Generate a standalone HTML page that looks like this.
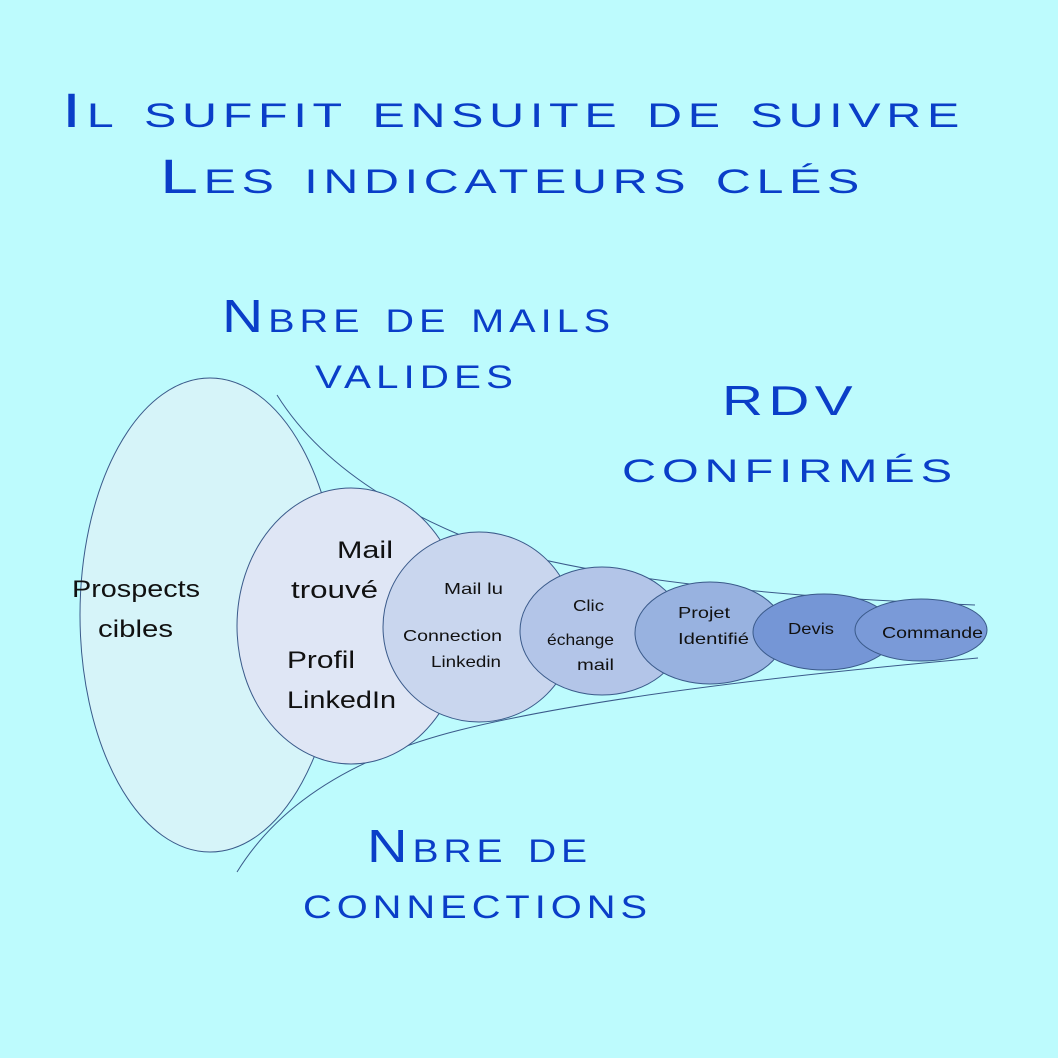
<!DOCTYPE html>
<html><head><meta charset="utf-8"><style>
html,body{margin:0;padding:0;background:#bdfbfd;}
svg{display:block}
.t{font-family:"Liberation Sans",sans-serif;font-variant:small-caps;fill:#0a3ec8;letter-spacing:4px;}
.b{font-family:"Liberation Sans",sans-serif;fill:#111;}
</style></head><body>
<svg width="1058" height="1058" viewBox="0 0 1058 1058" xmlns="http://www.w3.org/2000/svg">
<rect width="1058" height="1058" fill="#bdfbfd"/>
<text class="t" x="62" y="127" font-size="48" textLength="903" lengthAdjust="spacingAndGlyphs">Il suffit ensuite de suivre</text>
<text class="t" x="160" y="193" font-size="48" textLength="705" lengthAdjust="spacingAndGlyphs">Les indicateurs clés</text>
<text class="t" x="222" y="332" font-size="46" textLength="393" lengthAdjust="spacingAndGlyphs">Nbre de mails</text>
<text class="t" x="315" y="388" font-size="46" textLength="203" lengthAdjust="spacingAndGlyphs">valides</text>
<text class="t" x="722" y="415" font-size="42" textLength="136" lengthAdjust="spacingAndGlyphs">RDV</text>
<text class="t" x="622" y="482" font-size="46" textLength="336" lengthAdjust="spacingAndGlyphs">confirmés</text>
<text class="t" x="367" y="862" font-size="46" textLength="225" lengthAdjust="spacingAndGlyphs">Nbre de</text>
<text class="t" x="303" y="918" font-size="46" textLength="349" lengthAdjust="spacingAndGlyphs">connections</text>
<g stroke="#3a5a8a" stroke-width="1">
<ellipse cx="210" cy="615" rx="130" ry="237" fill="#d6f4f9"/>
<path d="M277 395 Q330 480 460 535 Q600 590 975 605" fill="none"/>
<path d="M237 872 Q300 770 460 730 Q620 690 978 658" fill="none"/>
<ellipse cx="351" cy="626" rx="114" ry="138" fill="#dfe6f5"/>
<ellipse cx="479" cy="627" rx="96" ry="95" fill="#c9d6ee"/>
<ellipse cx="602" cy="631" rx="82" ry="64" fill="#b3c5e8"/>
<ellipse cx="710" cy="633" rx="75" ry="51" fill="#98b2e0"/>
<ellipse cx="824" cy="632" rx="71" ry="38" fill="#7596d6"/>
<ellipse cx="921" cy="630" rx="66" ry="31" fill="#7a9ad8"/>
</g>
<g class="b">
<text x="72" y="597" font-size="24" textLength="128" lengthAdjust="spacingAndGlyphs">Prospects</text>
<text x="98" y="637" font-size="24" textLength="75" lengthAdjust="spacingAndGlyphs">cibles</text>
<text x="337" y="558" font-size="24" textLength="56" lengthAdjust="spacingAndGlyphs">Mail</text>
<text x="291" y="598" font-size="24" textLength="87" lengthAdjust="spacingAndGlyphs">trouvé</text>
<text x="287" y="668" font-size="24" textLength="68" lengthAdjust="spacingAndGlyphs">Profil</text>
<text x="287" y="708" font-size="24" textLength="109" lengthAdjust="spacingAndGlyphs">LinkedIn</text>
<text x="444" y="594" font-size="16" textLength="59" lengthAdjust="spacingAndGlyphs">Mail lu</text>
<text x="403" y="641" font-size="16" textLength="99" lengthAdjust="spacingAndGlyphs">Connection</text>
<text x="431" y="667" font-size="16" textLength="70" lengthAdjust="spacingAndGlyphs">Linkedin</text>
<text x="573" y="611" font-size="16" textLength="31" lengthAdjust="spacingAndGlyphs">Clic</text>
<text x="547" y="645" font-size="16" textLength="67" lengthAdjust="spacingAndGlyphs">échange</text>
<text x="577" y="670" font-size="16" textLength="37" lengthAdjust="spacingAndGlyphs">mail</text>
<text x="678" y="618" font-size="16" textLength="52" lengthAdjust="spacingAndGlyphs">Projet</text>
<text x="678" y="644" font-size="16" textLength="71" lengthAdjust="spacingAndGlyphs">Identifié</text>
<text x="788" y="634" font-size="16" textLength="46" lengthAdjust="spacingAndGlyphs">Devis</text>
<text x="882" y="638" font-size="16" textLength="101" lengthAdjust="spacingAndGlyphs">Commande</text>
</g>
</svg>
</body></html>
